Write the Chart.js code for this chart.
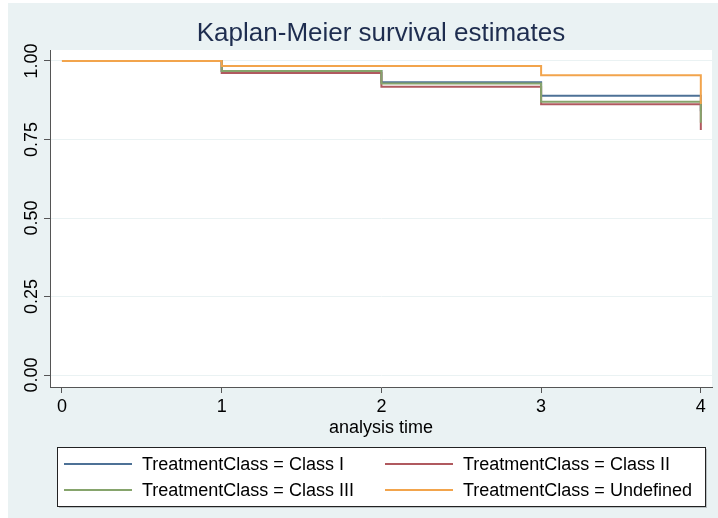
<!DOCTYPE html>
<html>
<head>
<meta charset="utf-8">
<script src="https://cdn.jsdelivr.net/npm/chart.js@4/dist/chart.umd.min.js"></script>
<style>
  html, body { margin: 0; padding: 0; background: #ffffff; }
  #wrap { position: absolute; left: 8px; top: 3px; width: 710px; height: 515px; background: #eaf2f3; }
</style>
</head>
<body>
<div id="wrap"><canvas id="km" width="710" height="515"></canvas></div>
<script>
"use strict";
// analysis time points (step changes happen at these)
const times = [0, 1, 2, 3, 4];
const xTicks = [0, 1, 2, 3, 4];
const yTicks = [0, 0.25, 0.5, 0.75, 1];

const seriesNames = [
    'TreatmentClass = Class I',
    'TreatmentClass = Class II',
    'TreatmentClass = Class III',
    'TreatmentClass = Undefined'
];
const classI = [1, 0.968, 0.932, 0.889, 0.84];
const classII = [1, 0.962, 0.918, 0.862, 0.78];
const classIII = [1, 0.968, 0.928, 0.870, 0.803];
const undefinedClass = [1, 0.984, 0.984, 0.955, 0.863];

const colors = ['#4d7196', '#b0595f', '#86a46c', '#f2a44c'];
const FONT = '"Liberation Sans", Arial, sans-serif';

const allSeries = [classI, classII, classIII, undefinedClass];
const datasets = allSeries.map((vals, i) => ({
    label: seriesNames[i],
    data: vals.map((v, k) => ({ x: times[k], y: v })),
    borderColor: colors[i],
    backgroundColor: colors[i],
    borderWidth: 2,
    pointRadius: 0,
    stepped: 'before', // horizontal first, then drop at the event time
    fill: false,
    order: allSeries.length - i // Undefined drawn on top like Stata
}));

// white plot region, title, rotated y labels and the boxed legend
const stataPlugin = {
    id: 'stata',
    beforeDraw(chart) {
        const { ctx, chartArea: a } = chart;
        ctx.save();
        ctx.fillStyle = '#ffffff';
        ctx.fillRect(a.left, a.top, a.right - a.left, a.bottom - a.top);
        ctx.restore();
    },
    afterDraw(chart) {
        const { ctx, chartArea: a } = chart;
        const ys = chart.scales.y;
        ctx.save();
        // title
        ctx.fillStyle = '#1e2d4f';
        ctx.font = '26px ' + FONT;
        ctx.textAlign = 'center';
        ctx.textBaseline = 'middle';
        ctx.fillText('Kaplan-Meier survival estimates', (a.left + a.right) / 2, 31);

        // y tick labels, read bottom to top
        ctx.fillStyle = '#000000';
        ctx.font = '18px ' + FONT;
        ys.ticks.forEach(t => {
            const py = ys.getPixelForValue(t.value);
            ctx.save();
            ctx.translate(a.left - 18, py);
            ctx.rotate(-Math.PI / 2);
            ctx.fillText(t.value.toFixed(2), 0, 0);
            ctx.restore();
        });

        // legend box
        const bx = 49, by = 444, bw = 648, bh = 59;
        ctx.fillStyle = '#b9c0c2';
        ctx.fillRect(bx + 2, by + 2, bw, bh);
        ctx.fillStyle = '#ffffff';
        ctx.fillRect(bx, by, bw, bh);
        ctx.strokeStyle = '#222222';
        ctx.lineWidth = 1;
        ctx.strokeRect(bx + 0.5, by + 0.5, bw, bh);

        const cols = [56, 377];
        const rows = [461, 487];
        ctx.textAlign = 'left';
        chart.data.datasets.forEach((ds, i) => {
            const cx = cols[i % 2];
            const cy = rows[Math.floor(i / 2)];
            ctx.strokeStyle = ds.borderColor;
            ctx.lineWidth = 2;
            ctx.beginPath();
            ctx.moveTo(cx, cy);
            ctx.lineTo(cx + 68, cy);
            ctx.stroke();
            ctx.fillStyle = '#000000';
            ctx.fillText(ds.label, cx + 78, cy + 1);
        });
        ctx.restore();
    }
};

new Chart(document.getElementById('km').getContext('2d'), {
    type: 'line',
    data: { datasets: datasets },
    options: {
        responsive: false,
        animation: false,
        layout: { padding: { top: 47, right: 6, bottom: 75, left: 0 } },
        plugins: {
            legend: { display: false },
            title: { display: false },
            tooltip: { enabled: false }
        },
        scales: {
            x: {
                type: 'linear',
                min: -0.075,
                max: 4.07,
                afterBuildTicks: s => { s.ticks = xTicks.map(v => ({ value: v })); },
                afterFit: s => { s.height = 56; },
                ticks: {
                    color: '#000000',
                    font: { family: FONT, size: 18 },
                    padding: 3,
                    maxRotation: 0,
                    callback: v => String(v)
                },
                grid: {
                    drawOnChartArea: false,
                    tickLength: 6,
                    tickColor: '#555555'
                },
                border: { display: true, color: '#555555', width: 1 },
                title: {
                    display: true,
                    text: 'analysis time',
                    color: '#000000',
                    font: { family: FONT, size: 18 },
                    padding: { top: 0, bottom: 4 }
                }
            },
            y: {
                type: 'linear',
                min: -0.038,
                max: 1.035,
                afterBuildTicks: s => { s.ticks = yTicks.map(v => ({ value: v })); },
                afterFit: s => { s.width = 42; },
                ticks: { display: false },
                grid: {
                    color: '#eaf2f3',
                    lineWidth: 1,
                    tickLength: 6,
                    tickColor: '#555555'
                },
                border: { display: true, color: '#555555', width: 1 }
            }
        }
    },
    plugins: [stataPlugin]
});
</script>
</body>
</html>
